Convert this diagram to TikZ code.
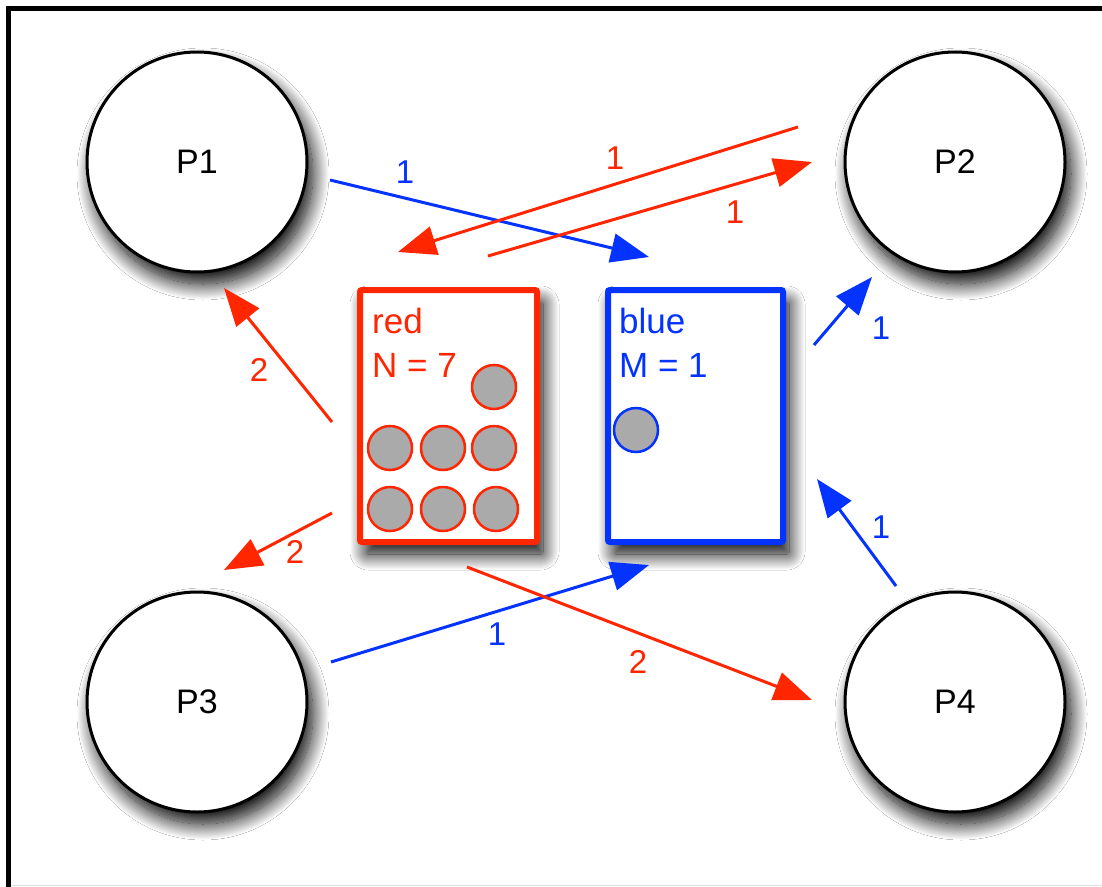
\documentclass[tikz,border=0pt]{standalone}
\usepackage{fontspec}
\setmainfont{Liberation Sans}
\usetikzlibrary{arrows.meta,shadows.blur}
\definecolor{pred}{RGB}{255,38,0}
\definecolor{pblue}{RGB}{4,51,255}
\definecolor{ballgray}{RGB}{170,170,170}

\begin{document}
\begin{tikzpicture}[x=1pt,y=-1pt,
  softshadow/.style={blur shadow={shadow xshift=6pt,shadow yshift=-12pt,shadow blur radius=16pt,shadow opacity=100,shadow blur steps=24}},
  proc/.style={circle,draw=black,line width=3pt,fill=white,minimum size=220pt,inner sep=0pt,
    font=\fontsize{34}{40}\selectfont,softshadow},
  pool/.style={rectangle,rounded corners=2pt,line width=6pt,fill=white,inner sep=0pt,outer sep=0pt,
    minimum height=252pt,softshadow},
  redpool/.style={pool,draw=pred,minimum width=177pt},
  bluepool/.style={pool,draw=pblue,minimum width=175pt},
  pooltext/.style={anchor=base west,inner sep=0pt,font=\fontsize{35}{42}\selectfont},
  ball/.style={circle,fill=ballgray,line width=2.5pt,minimum size=44pt,inner sep=0pt},
  redball/.style={ball,draw=pred},
  blueball/.style={ball,draw=pblue},
  flow/.style={line width=3pt,-{Triangle[length=38pt,width=29pt]}},
  redflow/.style={flow,draw=pred,fill=pred},
  blueflow/.style={flow,draw=pblue,fill=pblue},
  weight/.style={inner sep=0pt,font=\fontsize{33}{40}\selectfont},
]
\useasboundingbox (0,0) rectangle (1102,886);
\fill[white] (0,0) rectangle (1102,886);

% outer frame
\begin{scope}
\clip (0,0) rectangle (1102,886);
\draw[black!12,line width=1pt] (8,885) -- (1102,885);
\draw[black,line width=5pt] (8,900) -- (8,8) -- (1120,8);
\end{scope}

% processes
\node[proc] (P1) at (197,162) {P1};
\node[proc] (P2) at (955,162) {P2};
\node[proc] (P3) at (197,702) {P3};
\node[proc] (P4) at (955,702) {P4};

% token pools
\node[redpool]  (red)  at (448.5,416) {};
\node[bluepool] (blue) at (695.5,416) {};

\node[pooltext,text=pred] (redname) at (372,333) {red};
\node[pooltext,text=pred] (redcount) at (372,377) {N = 7};
\node[pooltext,text=pblue] (bluename) at (619,333) {blue};
\node[pooltext,text=pblue] (bluecount) at (619,377) {M = 1};

% tokens
\node[redball] (r1) at (494,387) {};
\node[redball] (r2) at (390,448) {};
\node[redball] (r3) at (443,448) {};
\node[redball] (r4) at (494,448) {};
\node[redball] (r5) at (390,509) {};
\node[redball] (r6) at (443,509) {};
\node[redball] (r7) at (496,509) {};
\node[blueball] (b1) at (636,430) {};

% connector ends
\coordinate (p1out)  at (330,180);
\coordinate (bluein1) at (649,257);
\coordinate (p2out)  at (798,127);
\coordinate (redin2) at (398,252);
\coordinate (redout2) at (488,256);
\coordinate (p2in)   at (812,162);
\coordinate (redout1) at (332,422);
\coordinate (p1in)   at (224,288);
\coordinate (redout3) at (332,513);
\coordinate (p3in)   at (224,570);
\coordinate (p3out)  at (331,662);
\coordinate (bluein3) at (649,565);
\coordinate (redout4) at (467,567);
\coordinate (p4in)   at (812,700);
\coordinate (blueout2) at (814,345);
\coordinate (p2inb)  at (872,277);
\coordinate (p4out)  at (896,586);
\coordinate (bluein4) at (817,479);

% arcs
\draw[blueflow] (p1out) -- (bluein1);
\draw[redflow]  (p2out) -- (redin2);
\draw[redflow]  (redout2) -- (p2in);
\draw[redflow]  (redout1) -- (p1in);
\draw[redflow]  (redout3) -- (p3in);
\draw[blueflow] (p3out) -- (bluein3);
\draw[redflow]  (redout4) -- (p4in);
\draw[blueflow] (blueout2) -- (p2inb);
\draw[blueflow] (p4out) -- (bluein4);

% arc weights
\node[weight,text=pblue] (w1) at (405,172) {1};
\node[weight,text=pred]  (w2) at (615,158) {1};
\node[weight,text=pred]  (w3) at (735,212) {1};
\node[weight,text=pred]  (w4) at (259,370) {2};
\node[weight,text=pred]  (w5) at (295,552) {2};
\node[weight,text=pblue] (w6) at (497,634) {1};
\node[weight,text=pred]  (w7) at (638,662) {2};
\node[weight,text=pblue] (w8) at (881,328) {1};
\node[weight,text=pblue] (w9) at (881,527) {1};
\end{tikzpicture}
\end{document}
